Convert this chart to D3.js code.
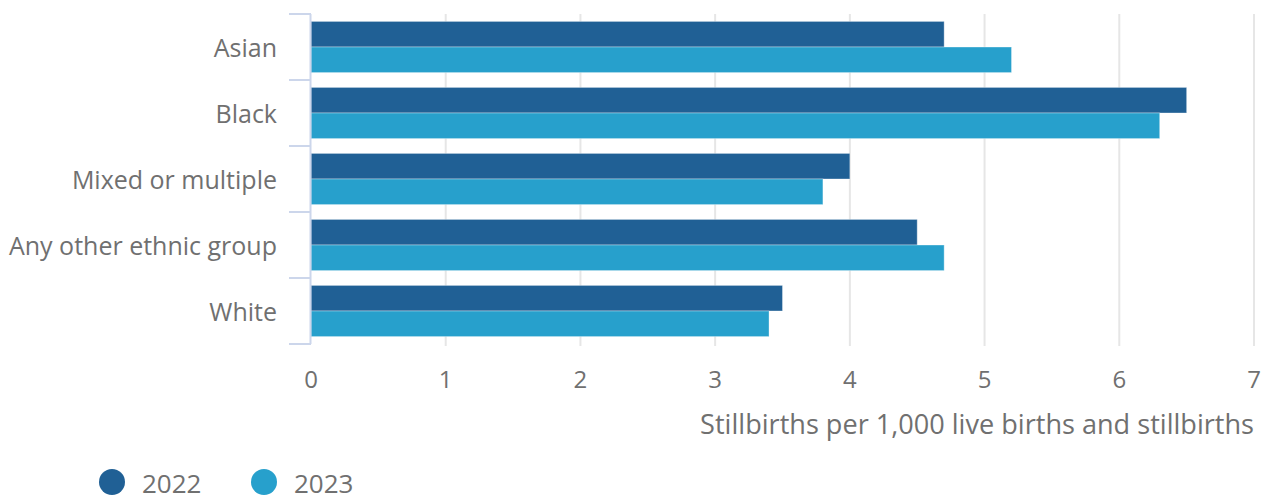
<!DOCTYPE html>
<html>
<head>
<meta charset="utf-8">
<script src="https://cdn.jsdelivr.net/npm/d3@7"></script>
<style>
  body { margin: 0; background: #fff; }
  text { font-family: "Open Sans", sans-serif; fill: #707070; }
</style>
</head>
<body>
<div id="chart"></div>
<script>
// ethnic groups, top to bottom
const categories = ["Asian", "Black", "Mixed or multiple", "Any other ethnic group", "White"];
const seriesNames = ["2022", "2023"];
const values2022 = [4.7, 6.5, 4.0, 4.5, 3.5];
const values2023 = [5.2, 6.3, 3.8, 4.7, 3.4];
const xTicks = [0, 1, 2, 3, 4, 5, 6, 7];
const colors = ["#206095", "#27a0cc"];

const width = 1267, height = 501;
const margin = { top: 14, right: 13, bottom: 157, left: 311 };

const svg = d3.select("#chart").append("svg")
    .attr("width", width)
    .attr("height", height);

const x = d3.scaleLinear().domain([0, 7]).range([margin.left, width - margin.right]);
const y0 = d3.scaleBand().domain(categories).range([margin.top, height - margin.bottom]).padding(0);
const y1 = d3.scaleBand().domain(seriesNames).range([0, y0.bandwidth()]).paddingInner(0).paddingOuter(0.29);

// gridlines
svg.append("g")
    .selectAll("line")
    .data(xTicks.slice(1))
    .join("line")
    .attr("x1", d => x(d)).attr("x2", d => x(d))
    .attr("y1", margin.top).attr("y2", height - margin.bottom + 2)
    .attr("stroke", "#e6e6e6")
    .attr("stroke-width", 2);

// bars
const rows = categories.map((c, i) => ({ cat: c, vals: [values2022[i], values2023[i]] }));
svg.append("g")
    .selectAll("g")
    .data(rows)
    .join("g")
    .attr("transform", d => `translate(0,${y0(d.cat)})`)
    .selectAll("rect")
    .data(d => d.vals.map((v, j) => ({ key: seriesNames[j], v, j })))
    .join("rect")
    .attr("x", x(0))
    .attr("y", d => y1(d.key))
    .attr("width", d => x(d.v) - x(0))
    .attr("height", y1.bandwidth())
    .attr("fill", d => colors[d.j])
    .attr("stroke", "rgba(255,255,255,0.35)")
    .attr("stroke-width", 1);

// y axis line + band ticks
const yAxis = svg.append("g");
yAxis.append("line")
    .attr("x1", margin.left - 0.5).attr("x2", margin.left - 0.5)
    .attr("y1", margin.top).attr("y2", height - margin.bottom)
    .attr("stroke", "#ccd6eb").attr("stroke-width", 2);
const bandEdges = categories.map(c => y0(c)).concat([y0.range()[1]]);
yAxis.selectAll(".tk")
    .data(bandEdges)
    .join("line")
    .attr("x1", margin.left - 22).attr("x2", margin.left)
    .attr("y1", d => d).attr("y2", d => d)
    .attr("stroke", "#ccd6eb").attr("stroke-width", 2);
yAxis.selectAll(".lbl")
    .data(categories)
    .join("text")
    .attr("x", margin.left - 34)
    .attr("y", d => y0(d) + y0.bandwidth() / 2 + 1)
    .attr("dy", "0.35em")
    .attr("text-anchor", "end")
    .attr("font-size", 25)
    .text(d => d);

// x tick labels
svg.append("g")
    .selectAll("text")
    .data(xTicks)
    .join("text")
    .attr("x", d => x(d))
    .attr("y", 380)
    .attr("dy", "0.35em")
    .attr("text-anchor", "middle")
    .attr("font-size", 24)
    .text(d => d);

// x axis title
svg.append("text")
    .attr("x", width - margin.right)
    .attr("y", 425)
    .attr("dy", "0.35em")
    .attr("text-anchor", "end")
    .attr("font-size", 27.1)
    .text("Stillbirths per 1,000 live births and stillbirths");

// legend
const legend = svg.append("g")
    .selectAll("g")
    .data(seriesNames)
    .join("g")
    .attr("transform", (d, i) => `translate(${112 + i * 152},482)`);
legend.append("circle").attr("r", 13).attr("fill", (d, i) => colors[i]);
legend.append("text")
    .attr("x", 30)
    .attr("y", 2)
    .attr("dy", "0.35em")
    .attr("font-size", 26)
    .text(d => d);
</script>
</body>
</html>
